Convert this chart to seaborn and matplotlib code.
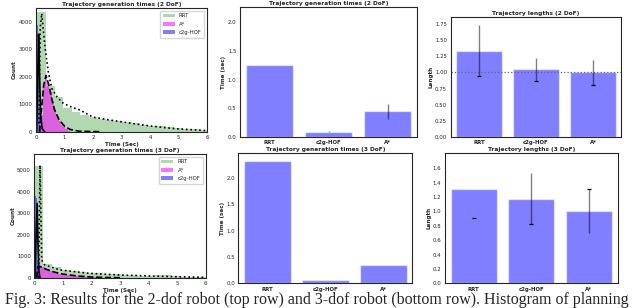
import numpy as np
import pandas as pd
import seaborn as sns
import matplotlib.pyplot as plt

methods_hist = ["RRT", "A*", "c2g-HOF"]
methods_bar = ["RRT", "c2g-HOF", "A*"]

# histogram bins: (first edge, bin width, counts)
rrt2_start, rrt2_width = 0.05, 0.30
rrt2_counts = [4350, 1650, 1250, 870, 700, 600, 530, 470, 420, 380,
               340, 300, 260, 220, 190, 160, 130, 105, 85, 65]
astar2_start, astar2_width = 0.15, 0.08
astar2_counts = [600, 1700, 2050, 1800, 1450, 1100, 800, 560, 380, 250, 160, 90, 40]
c2g2_start, c2g2_width = 0.02, 0.03
c2g2_counts = [1400, 3900, 3000, 900, 200]

rrt3_start, rrt3_width = 0.02, 0.30
rrt3_counts = [5200, 650, 500, 380, 320, 280, 240, 200, 170, 150, 130,
               115, 100, 90, 110, 105, 70, 50, 40, 35, 25]
astar3_start, astar3_width = 0.08, 0.15
astar3_counts = [550, 480, 380, 300, 240, 190, 150, 120, 95, 75, 55, 40, 30, 20]
c2g3_start, c2g3_width = 0.0, 0.035
c2g3_counts = [5900, 3800, 3700, 800, 150]

# density curves
rrt2_kde_x = [0.10, 0.15, 0.20, 0.32, 0.43, 0.55, 0.73, 0.96, 1.3, 1.54, 2.0, 2.5, 3.0, 3.5, 4.0, 4.5, 5.0, 5.5, 6.0]
rrt2_kde_y = [300, 3800, 4300, 3030, 2180, 1580, 1270, 1030, 870, 790, 530, 440, 360, 280, 210, 150, 100, 70, 40]
astar2_kde_x = [0.12, 0.2, 0.27, 0.35, 0.45, 0.55, 0.65, 0.8, 1.0, 1.2, 1.5, 2.0, 2.3]
astar2_kde_y = [0, 900, 1700, 2050, 1700, 1200, 800, 450, 200, 80, 20, 5, 0]
c2g2_kde_x = [0.02, 0.06, 0.09, 0.12, 0.16, 0.22, 0.3]
c2g2_kde_y = [0, 2000, 3550, 2200, 600, 100, 0]

rrt3_kde_x = [0.15, 0.2, 0.26, 0.37, 0.9, 1.95, 3.0, 4.05, 4.98, 6.0]
rrt3_kde_y = [0, 5230, 820, 590, 360, 200, 125, 80, 45, 15]
astar3_kde_x = [0.08, 0.12, 0.2, 0.4, 0.7, 1.0, 1.5, 2.0, 2.5, 3.0]
astar3_kde_y = [0, 500, 520, 400, 260, 170, 80, 30, 10, 0]
c2g3_kde_x = [0.02, 0.05, 0.1, 0.13, 0.16, 0.2]
c2g3_kde_y = [0, 1500, 3450, 1500, 300, 0]

# bar charts
time2 = [1.25, 0.09, 0.45]
time2_lo = [1.25, 0.08, 0.31]
time2_hi = [1.25, 0.10, 0.58]
time3 = [2.33, 0.06, 0.35]

len2 = [1.33, 1.05, 1.00]
len2_lo = [0.94, 0.87, 0.80]
len2_hi = [1.73, 1.23, 1.20]
len2_cap = [0.94, 0.87, 0.80]
len3 = [1.31, 1.18, 1.00]
len3_lo = [0.91, 0.82, 0.70]
len3_hi = [0.91, 1.53, 1.31]
len3_cap = [0.91, 0.82, 1.31]

sns.set_style("white")
plt.rcParams['font.family'] = ['DejaVu Sans']
plt.rcParams['axes.edgecolor'] = '0.15'
plt.rcParams['axes.linewidth'] = 0.8

fs_tick = 3.9
fs_lab = 4.1
fs_title = 4.2

fig = plt.figure(figsize=(6.4, 3.08), dpi=100)
ax_h2 = fig.add_axes([0.0563, 0.5724, 0.2672, 0.4016])
ax_h3 = fig.add_axes([0.0536, 0.0984, 0.2678, 0.4016])
ax_t2 = fig.add_axes([0.375, 0.5552, 0.2766, 0.422])
ax_t3 = fig.add_axes([0.3725, 0.0802, 0.272, 0.422])
ax_l2 = fig.add_axes([0.704, 0.5552, 0.267, 0.39])
ax_l3 = fig.add_axes([0.695, 0.0802, 0.270, 0.422])


def draw_hist(ax, start, width, counts, color, alpha, label):
    edges = start + width * np.arange(len(counts) + 1)
    df = pd.DataFrame({"t": (edges[:-1] + edges[1:]) / 2, "w": counts})
    sns.histplot(data=df, x="t", weights="w", bins=list(edges), color=color, alpha=alpha,
                 linewidth=0, label=label, ax=ax)


def style_hist(ax, title, ymax, yticks):
    ax.set_xlim(0, 6)
    ax.set_ylim(0, ymax)
    ax.set_yticks(yticks)
    ax.set_xticks(range(7))
    ax.set_title(title, fontsize=fs_title, fontweight='bold', pad=1.5)
    ax.set_xlabel("Time (Sec)", fontsize=fs_lab, fontweight='bold', labelpad=1)
    ax.set_ylabel("Count", fontsize=fs_lab, fontweight='bold', labelpad=1)
    ax.tick_params(labelsize=fs_tick, length=1.5, width=0.5, pad=1)
    ax.legend(fontsize=fs_tick, loc='upper right', frameon=True, handlelength=2.2,
              borderpad=0.5, labelspacing=0.6)


for ax, data in [(ax_h2, [(rrt2_start, rrt2_width, rrt2_counts, rrt2_kde_x, rrt2_kde_y),
                          (astar2_start, astar2_width, astar2_counts, astar2_kde_x, astar2_kde_y),
                          (c2g2_start, c2g2_width, c2g2_counts, c2g2_kde_x, c2g2_kde_y)]),
                 (ax_h3, [(rrt3_start, rrt3_width, rrt3_counts, rrt3_kde_x, rrt3_kde_y),
                          (astar3_start, astar3_width, astar3_counts, astar3_kde_x, astar3_kde_y),
                          (c2g3_start, c2g3_width, c2g3_counts, c2g3_kde_x, c2g3_kde_y)])]:
    colors = ['g', 'magenta', 'b']
    alphas = [0.3, 0.55, 0.5]
    styles = [':', '--', '-']
    for (start, width, counts, kx, ky), m, c, a in zip(data, methods_hist, colors, alphas):
        draw_hist(ax, start, width, counts, c, a, m)
    for (start, width, counts, kx, ky), ls in zip(data, styles):
        sns.lineplot(x=kx, y=ky, color='k', linestyle=ls, linewidth=1.2, ax=ax)

style_hist(ax_h2, "Trajectory generation times (2 DoF)", 4500, [0, 1000, 2000, 3000, 4000])
style_hist(ax_h3, "Trajectory generation times (3 DoF)", 5750, [0, 1000, 2000, 3000, 4000, 5000])


def draw_bars(ax, vals, title, ylabel, ymax, yticks, fmt):
    sns.barplot(x=methods_bar, y=vals, color='b', alpha=0.5, saturation=1, width=0.8, ax=ax)
    ax.set_xlim(-0.5, 2.5)
    ax.set_ylim(0, ymax)
    ax.set_yticks(yticks)
    ax.set_yticklabels([fmt.format(t) for t in yticks])
    ax.set_title(title, fontsize=fs_title, fontweight='bold', pad=1.5)
    ax.set_ylabel(ylabel, fontsize=fs_lab, fontweight='bold', labelpad=1)
    ax.set_xlabel("")
    ax.tick_params(labelsize=fs_tick, length=1.5, width=0.5, pad=1)
    for lab in ax.get_xticklabels():
        lab.set_fontweight('bold')


def draw_err(ax, lo, hi, cap=None):
    pos = np.arange(len(lo))
    ax.vlines(pos, lo, hi, color='k', alpha=0.5, linewidth=1.0)
    if cap is not None:
        ax.hlines(cap, pos - 0.035, pos + 0.035, color='k', linewidth=0.9)


draw_bars(ax_t2, time2, "Trajectory generation times (2 DoF)", "Time (sec)", 2.27,
          [0, 0.5, 1.0, 1.5, 2.0], "{:.1f}")
draw_err(ax_t2, time2_lo, time2_hi)
draw_bars(ax_t3, time3, "Trajectory generation times (3 DoF)", "Time (sec)", 2.47,
          [0, 0.5, 1.0, 1.5, 2.0], "{:.1f}")

draw_bars(ax_l2, len2, "Trajectory lengths (2 DoF)", "Length", 1.86,
          [0, 0.25, 0.5, 0.75, 1.0, 1.25, 1.5, 1.75], "{:.2f}")
ax_l2.axhline(1.0, color='0.4', linestyle=':', linewidth=0.9)
draw_err(ax_l2, len2_lo, len2_hi, len2_cap)
draw_bars(ax_l3, len3, "Trajectory lengths (3 DoF)", "Length", 1.81,
          [0, 0.2, 0.4, 0.6, 0.8, 1.0, 1.2, 1.4, 1.6], "{:.1f}")
draw_err(ax_l3, len3_lo, len3_hi, len3_cap)

fig.text(0.008, 0.012,
         "Fig. 3: Results for the 2-dof robot (top row) and 3-dof robot (bottom row). Histogram of planning",
         fontsize=11.55, family='Liberation Serif', ha='left', va='baseline')

fig.savefig("out.png", dpi=100)
